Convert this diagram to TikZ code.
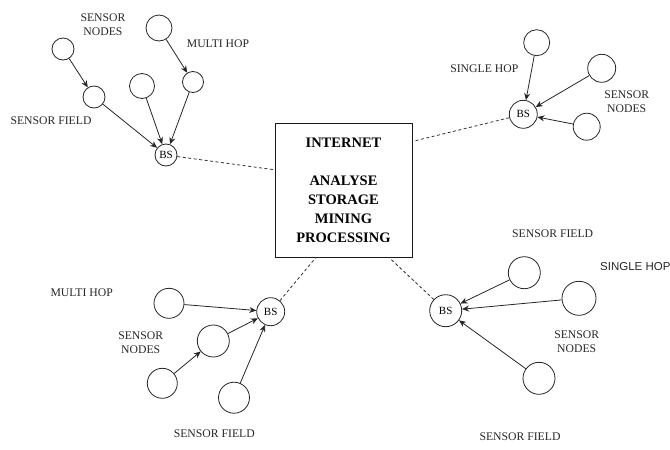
\documentclass[tikz,border=0pt]{standalone}
\usepackage{fontspec}
\setmainfont{Liberation Serif}
\newfontfamily\labelsans{Liberation Sans}
\usetikzlibrary{arrows.meta,calc}

\begin{document}
\begin{tikzpicture}[x=1pt,y=-1pt,
  sensor/.style={draw=black!85, line width=0.8pt, circle, inner sep=0pt, fill=white},
  bsnode/.style={sensor, font=\fontsize{11}{12}\selectfont},
  link/.style={draw=black!85, line width=0.8pt, -{Stealth[length=7pt,width=6pt]}},
  wire/.style={draw=black!80, line width=0.8pt, dash pattern=on 3pt off 2.5pt},
  lbl/.style={align=center, inner sep=0pt, font=\fontsize{11.7}{14}\selectfont, text=black!85},
  hub/.style={draw=black!90, line width=1pt, minimum width=137pt, minimum height=134pt,
              align=center, inner sep=0pt, font=\fontsize{14.5}{19}\selectfont\bfseries}]

\path[use as bounding box, clip] (0,0) rectangle (670,450);

% central hub
\node[hub] (inet) at (343.5,190) {INTERNET\\[19pt]ANALYSE\\STORAGE\\MINING\\PROCESSING};
\coordinate (inetW) at ($(inet.north west)!0.35!(inet.south west)$);
\coordinate (inetE) at ($(inet.north east)!0.14!(inet.south east)$);
\coordinate (inetSL) at ($(inet.south west)!0.30!(inet.south east)$);
\coordinate (inetSR) at ($(inet.south west)!0.83!(inet.south east)$);

% upper-left field (multi hop)
\node[sensor, minimum size=22pt] (tlA) at (63,49) {};
\node[sensor, minimum size=22pt] (tlB) at (94,97) {};
\node[sensor, minimum size=25pt] (tlC) at (142,86) {};
\node[sensor, minimum size=26pt] (tlD) at (159,28) {};
\node[sensor, minimum size=21pt] (tlE) at (193,82) {};
\node[bsnode, minimum size=22pt] (tlBS) at (166,155) {BS};
\draw[link] (tlA) -- (tlB);
\draw[link] (tlB) -- (tlBS);
\draw[link] (tlC) -- (tlBS);
\draw[link] (tlD) -- (tlE);
\draw[link] (tlE) -- (tlBS);
\draw[wire] (tlBS) -- (inetW);
\node[lbl] (tlNodes) at (103,25) {SENSOR\\NODES};
\node[lbl] (tlHop) at (218,44) {MULTI HOP};
\node[lbl] (tlField) at (51,121) {SENSOR FIELD};

% upper-right field (single hop)
\node[sensor, minimum size=26pt] (trA) at (536.7,42.7) {};
\node[sensor, minimum size=28pt] (trB) at (601.7,68.3) {};
\node[sensor, minimum size=27pt] (trC) at (586.7,126.7) {};
\node[bsnode, minimum size=28pt] (trBS) at (523.3,114.3) {BS};
\draw[link] (trA) -- (trBS);
\draw[link] (trB) -- (trBS);
\draw[link] (trC) -- (trBS);
\draw[wire] (trBS) -- (inetE);
\node[lbl] (trHop) at (484.3,68.3) {SINGLE HOP};
\node[lbl] (trNodes) at (626.7,102) {SENSOR\\NODES};
\node[lbl] (trField) at (552.7,234) {SENSOR FIELD};

% lower-left field (multi hop)
\node[sensor, minimum size=30pt] (blA) at (169,303.3) {};
\node[sensor, minimum size=32pt] (blB) at (213.3,341) {};
\node[sensor, minimum size=30pt] (blC) at (162.3,383.3) {};
\node[sensor, minimum size=31pt] (blD) at (234,397.7) {};
\node[bsnode, minimum size=28pt] (blBS) at (270.7,311.7) {BS};
\draw[link] (blA) -- (blBS);
\draw[link] (blC) -- (blB);
\draw[link] (blB) -- (blBS);
\draw[link] (blD) -- (blBS);
\draw[wire] (blBS) -- (inetSL);
\node[lbl] (blHop) at (81.7,292.3) {MULTI HOP};
\node[lbl] (blNodes) at (140.7,343) {SENSOR\\NODES};
\node[lbl] (blField) at (214.3,433.3) {SENSOR FIELD};

% lower-right field (single hop)
\node[sensor, minimum size=32pt] (brA) at (524.3,272.7) {};
\node[sensor, minimum size=34pt] (brB) at (579,298.3) {};
\node[sensor, minimum size=32pt] (brC) at (539,378.3) {};
\node[bsnode, minimum size=32pt] (brBS) at (445.7,310.7) {BS};
\draw[link] (brA) -- (brBS);
\draw[link] (brB) -- (brBS);
\draw[link] (brC) -- (brBS);
\draw[wire] (brBS) -- (inetSR);
\node[lbl, anchor=west, font=\labelsans\fontsize{11.5}{14}\selectfont] (brHop) at (600,266.7) {SINGLE HOP};
\node[lbl] (brNodes) at (576.7,342) {SENSOR\\NODES};
\node[lbl] (brField) at (520,436.7) {SENSOR FIELD};
\end{tikzpicture}
\end{document}
